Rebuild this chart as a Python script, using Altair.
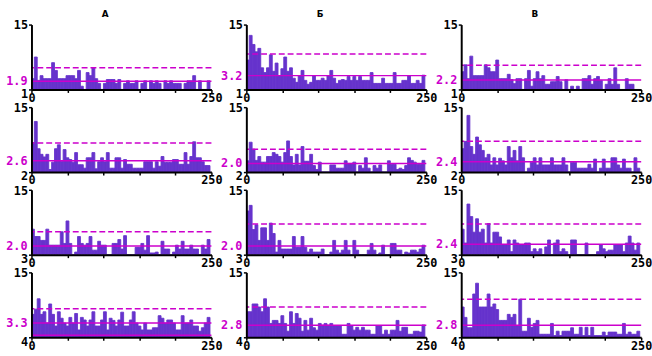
import altair as alt
import pandas as pd

PURPLE = "#6633cc"
MAGENTA = "#cc00cc"
FONT = "DejaVu Sans Mono"

COLUMN_TITLES = ["А", "Б", "В"]
ROW_LABELS = ["1", "2", "3", "4"]
X_TICKS = [0, 50, 100, 150, 200, 250]
Y_TICKS = [0, 3, 6, 9, 12, 15]
BIN_WIDTH = 4

# column А
a1 = [2.5, 7.5, 2.1, 3.2, 2.5, 2.5, 2.5, 6.2, 4.4, 2.5,
      2.5, 2.5, 3.2, 3.2, 3.2, 2.5, 4.4, 0.75, 0, 3.9,
      3.2, 5.0, 2.5, 1.4, 0, 1.4, 2.3, 2.3, 2.3, 1.4,
      2.3, 0, 1.4, 2.0, 1.4, 1.4, 2.0, 0, 1.4, 2.0,
      0, 2.0, 1.4, 2.0, 1.4, 0, 2.0, 1.4, 2.0, 1.4,
      1.4, 1.4, 0, 1.4, 2.0, 2.0, 3.2, 0, 2.0, 0,
      0, 2.0]
a2 = [6.8, 11.7, 5.4, 4.1, 3.5, 4.1, 0.6, 2.3, 5.4, 6.3,
      2.5, 5.2, 3.3, 2.9, 2.3, 4.5, 1.7, 1.7, 0.9, 3.3,
      3.3, 4.5, 0.75, 2.4, 3.3, 2.4, 4.5, 0.9, 0.9, 3.3,
      3.3, 0.9, 2.9, 1.8, 1.8, 0.9, 0.9, 0.9, 0.9, 2.4,
      2.4, 2.4, 0.9, 2.4, 1.35, 3.6, 2.3, 2.3, 2.3, 2.9,
      2.9, 1.8, 1.8, 4.5, 1.8, 3.6, 7.0, 3.3, 3.3, 2.4,
      1.5, 1.5]
a3 = [5.9, 4.2, 4.2, 3.3, 3.3, 5.9, 2.2, 2.2, 2.2, 2.2,
      5.3, 2.6, 7.8, 2.6, 0, 0.6, 4.2, 2.6, 2.2, 2.6,
      4.2, 1.05, 1.05, 3.1, 2.2, 2.2, 0, 0, 2.6, 2.6,
      3.5, 1.3, 4.4, 0, 0, 0, 1.7, 1.7, 2.6, 1.05,
      4.4, 0.4, 0.4, 0.6, 0, 3.1, 1.3, 1.3, 0, 0.6,
      2.2, 1.3, 3.1, 1.3, 1.3, 2.2, 1.3, 1.3, 0, 2.2,
      1.3, 3.5]
a4 = [5.3, 6.5, 8.9, 5.3, 5.9, 3.3, 7.7, 5.3, 2.6, 5.9,
      4.4, 3.3, 2.6, 4.6, 3.3, 5.5, 1.7, 4.6, 4.0, 2.6,
      4.0, 5.9, 2.6, 2.6, 4.0, 5.9, 1.7, 4.4, 3.9, 2.6,
      4.0, 5.8, 2.6, 2.6, 4.0, 5.9, 3.3, 2.6, 1.7, 3.3,
      1.7, 1.7, 2.2, 2.2, 5.0, 4.4, 3.3, 4.0, 4.0, 3.3,
      1.7, 1.7, 5.0, 3.3, 3.3, 4.0, 2.6, 2.6, 1.4, 2.2,
      3.3, 4.6]

# column Б
b1 = [6.8, 12.5, 10.4, 8.7, 9.5, 5.0, 3.9, 5.0, 8.0, 4.2,
      6.1, 3.2, 4.8, 7.5, 4.2, 5.0, 2.6, 1.65, 3.2, 4.4,
      2.1, 1.2, 1.65, 3.2, 2.1, 2.1, 2.6, 2.1, 3.2, 4.4,
      2.6, 1.4, 2.1, 2.3, 2.1, 3.0, 2.1, 3.0, 2.1, 3.0,
      2.1, 2.1, 2.1, 3.9, 1.4, 1.4, 1.4, 2.6, 1.4, 1.4,
      1.4, 3.9, 1.4, 1.4, 2.1, 2.1, 3.2, 1.4, 1.4, 2.1,
      1.4, 3.3]
b2 = [2.6, 6.9, 5.3, 2.7, 3.6, 2.3, 2.3, 3.6, 3.6, 4.5,
      4.1, 3.6, 2.3, 4.5, 7.2, 3.6, 1.65, 4.1, 1.65, 5.9,
      2.5, 2.5, 4.1, 1.5, 0.6, 2.3, 0, 0, 0, 1.65,
      1.65, 0.9, 0.9, 0.9, 2.6, 2.0, 2.0, 2.3, 0, 1.5,
      0.9, 3.3, 0.9, 0, 1.5, 0.9, 1.65, 0, 0, 2.6,
      1.8, 1.8, 0.6, 0.9, 0.6, 1.5, 3.3, 2.7, 2.3, 1.8,
      1.8, 2.7]
b3 = [10.1, 11.4, 5.8, 6.9, 3.3, 6.2, 6.2, 3.3, 7.3, 4.9,
      0.6, 3.3, 1.3, 1.3, 1.3, 1.3, 4.2, 1.7, 1.7, 4.2,
      1.7, 0.6, 1.3, 0.6, 0.6, 0.6, 1.3, 0, 0, 0.6,
      3.3, 1.05, 0.4, 1.05, 3.3, 1.05, 0, 3.3, 1.05, 0,
      0, 0, 1.05, 2.6, 1.05, 0, 0.4, 2.2, 0, 0,
      2.6, 2.6, 1.05, 1.05, 0, 0.6, 0.4, 1.05, 1.05, 0.6,
      1.3, 2.2]
b4 = [5.9, 5.9, 7.7, 7.7, 7.0, 5.9, 8.9, 7.0, 3.2, 3.9,
      3.9, 3.2, 5.0, 3.2, 1.4, 5.9, 3.2, 5.5, 4.4, 1.4,
      3.9, 1.65, 4.4, 2.2, 1.65, 3.2, 2.8, 3.2, 2.8, 3.2,
      2.6, 2.6, 2.6, 0.7, 0.7, 3.2, 2.6, 1.65, 2.3, 1.65,
      2.3, 1.65, 1.65, 0.7, 0.7, 2.6, 2.6, 0.7, 1.65, 0.7,
      1.65, 1.65, 3.9, 1.4, 2.3, 2.3, 0.7, 0.7, 1.4, 1.4,
      1.2, 2.85]

# column В
c1 = [4.1, 5.7, 2.5, 7.7, 3.2, 3.2, 3.2, 3.2, 5.7, 5.0,
      4.1, 4.1, 6.8, 2.5, 2.5, 2.5, 3.5, 2.3, 1.35, 2.5,
      2.5, 0, 2.5, 4.4, 0.75, 2.5, 4.1, 2.5, 3.2, 1.2,
      1.2, 1.8, 1.8, 3.0, 1.8, 0, 2.25, 0, 0.75, 0,
      0.75, 0, 2.5, 2.5, 3.2, 1.2, 2.5, 3.0, 2.1, 0,
      1.2, 2.5, 1.2, 5.0, 1.2, 0, 0, 2.5, 1.2, 1.2,
      0, 0]
c2 = [5.4, 7.1, 13.1, 5.9, 4.1, 8.1, 6.3, 5.0, 3.3, 4.1,
      1.65, 3.3, 1.65, 3.2, 2.6, 1.65, 5.9, 3.3, 5.0, 2.6,
      5.9, 3.3, 0, 0.9, 2.3, 3.3, 1.65, 3.3, 1.65, 1.65,
      1.65, 3.3, 1.65, 1.65, 1.65, 3.3, 1.65, 0, 2.3, 2.3,
      0.9, 0.9, 0.9, 0.9, 1.8, 0.9, 3.0, 0, 0.9, 3.0,
      0.9, 0.9, 3.3, 3.3, 1.65, 0.9, 3.0, 0.9, 0.9, 0,
      3.3, 0.9]
c3 = [5.9, 2.7, 11.7, 8.8, 5.2, 8.3, 5.2, 5.9, 2.7, 7.2,
      2.7, 5.2, 5.2, 4.1, 2.25, 2.25, 3.4, 0.7, 3.4, 2.7,
      2.25, 2.25, 2.7, 2.7, 0.7, 1.35, 0.7, 1.35, 0, 1.8,
      3.4, 0, 2.7, 3.4, 0.7, 1.35, 0.7, 0, 3.4, 3.4,
      0, 0, 0, 2.7, 0, 0, 0, 0.7, 2.25, 1.35,
      0.7, 1.05, 1.05, 2.25, 2.25, 2.25, 0.7, 2.7, 4.3, 2.7,
      1.05, 2.7]
c4 = [7.0, 4.6, 2.2, 2.2, 10.0, 12.5, 7.0, 7.0, 7.0, 10.0,
      7.0, 7.7, 6.4, 3.9, 3.9, 3.9, 5.3, 4.6, 5.3, 2.6,
      8.8, 1.4, 1.4, 4.4, 2.3, 3.2, 3.9, 0.7, 0.7, 0.7,
      0.7, 3.2, 0.4, 1.4, 0.4, 1.4, 1.4, 1.4, 2.2, 0.7,
      0.7, 2.3, 0.4, 2.3, 0.4, 2.3, 0.4, 0.4, 0.4, 1.2,
      0.4, 1.2, 1.2, 1.2, 0.7, 0.7, 3.2, 0.7, 1.2, 0.7,
      0.7, 1.4]

mean_a = [1.9, 2.6, 2.0, 3.3]
mean_b = [3.2, 2.0, 2.0, 2.8]
mean_c = [2.2, 2.4, 2.4, 2.8]
upper_a = [5.0, 6.7, 5.3, 6.6]
upper_b = [8.2, 5.3, 7.1, 7.0]
upper_c = [5.6, 7.1, 7.1, 8.8]
low_a = [None, None, None, 0.45]

columns = [
    ([a1, a2, a3, a4], mean_a, upper_a, low_a),
    ([b1, b2, b3, b4], mean_b, upper_b, [None] * 4),
    ([c1, c2, c3, c4], mean_c, upper_c, [None] * 4),
]

X_SCALE = alt.Scale(domain=[0, 250], nice=False, zero=False)
Y_SCALE = alt.Scale(domain=[0, 15], nice=False)


def make_panel(values, mean, upper, low, row, col):
    df = pd.DataFrame({"bin": list(range(len(values))), "count": values})
    x_axis = alt.Axis(
        values=X_TICKS, title=None, grid=False,
        labelExpr="datum.value == 0 || datum.value == 250 ? datum.label : ''",
        labelFlush=False, labelOverlap=False, labelBound=False,
        labelFont=FONT, labelFontWeight="bold", labelFontSize=12, labelColor="black",
        labelPadding=0, tickSize=3, tickWidth=1.5, tickColor="black",
        domainColor="black", domainWidth=2, zindex=1,
    )
    y_axis = alt.Axis(
        values=Y_TICKS, title=None, grid=False,
        labelExpr=f"datum.value == 15 ? '15' : datum.value == 0 ? '{ROW_LABELS[row]}' : ''",
        labelOverlap=False, labelBound=False, labelFlush=False,
        labelFont=FONT, labelFontWeight="bold", labelFontSize=12, labelColor="black",
        labelPadding=1,
        labelOffset={"condition": {"test": "datum.value == 0", "value": 4}, "value": 0.5},
        tickSize=3, tickWidth=1.5, tickColor="black",
        domainColor="black", domainWidth=2, zindex=1,
    )
    bars = (
        alt.Chart(df)
        .transform_calculate(start=f"datum.bin * {BIN_WIDTH}",
                             end=f"datum.bin * {BIN_WIDTH} + {BIN_WIDTH}")
        .mark_rect(color=PURPLE, stroke=PURPLE, strokeWidth=0.9, clip=True)
        .encode(
            x=alt.X("start:Q", scale=X_SCALE, axis=x_axis),
            x2="end:Q",
            y=alt.Y("count:Q", scale=Y_SCALE, axis=y_axis),
            y2=alt.datum(0),
        )
    )
    mdf = pd.DataFrame({"m": [mean]})
    mean_rule = alt.Chart(mdf).mark_rule(color=MAGENTA, strokeWidth=1.5).encode(
        y=alt.Y("m:Q", scale=Y_SCALE))
    mean_text = alt.Chart(mdf).mark_text(
        align="right", baseline="middle", font=FONT, fontSize=12,
        fontWeight="bold", color=MAGENTA,
    ).encode(x=alt.value(-4), y=alt.Y("m:Q", scale=Y_SCALE),
             text=alt.Text("m:Q", format=".1f"))
    udf = pd.DataFrame({"u": [upper]})
    upper_rule = alt.Chart(udf).mark_rule(
        color=MAGENTA, strokeWidth=1.5, strokeDash=[6, 3]
    ).encode(y=alt.Y("u:Q", scale=Y_SCALE))
    layers = [bars, mean_rule, upper_rule, mean_text]
    if low is not None:
        ldf = pd.DataFrame({"l": [low]})
        layers.append(alt.Chart(ldf).mark_rule(color=MAGENTA, strokeWidth=1.5).encode(
            y=alt.Y("l:Q", scale=Y_SCALE)))
    if row == 0:
        tdf = pd.DataFrame({"t": [COLUMN_TITLES[col]]})
        layers.append(alt.Chart(tdf).mark_text(
            font="DejaVu Sans", fontSize=9, fontWeight="bold", color="black",
            align="center", baseline="alphabetic",
        ).encode(x=alt.value(75), y=alt.value(-7.5), text="t:N"))
    return alt.layer(*layers).properties(width=183, height=66)


panels = []
for row in range(4):
    for col in range(3):
        vals, means, uppers, lows = columns[col]
        panels.append(make_panel(vals[row], means[row], uppers[row], lows[row], row, col))

chart = (
    alt.concat(*panels, columns=3, spacing={"row": 18, "column": 35.5}, bounds="flush")
    .properties(padding={"left": 6, "top": 7, "right": 0, "bottom": 0}, background="white")
    .configure_view(stroke=None)
)

chart.save("out.html", embed_options={"renderer": "svg", "actions": False})
